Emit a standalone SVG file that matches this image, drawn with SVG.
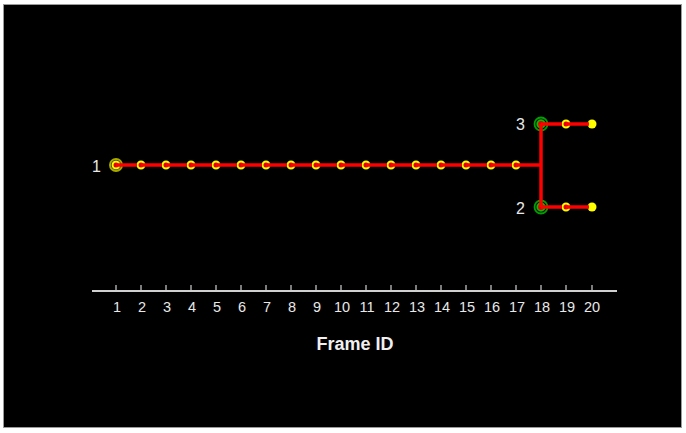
<svg xmlns="http://www.w3.org/2000/svg" width="686" height="433" viewBox="0 0 686 433">
<style>
.lbl{font-family:"Liberation Sans",Arial,sans-serif;font-size:16px;fill:#e8e8e8}
.tk{font-family:"Liberation Sans",Arial,sans-serif;font-size:14.5px;fill:#e8e8e8;text-anchor:middle}
.ttl{font-family:"Liberation Sans",Arial,sans-serif;font-size:18px;font-weight:bold;fill:#f0f0f0;text-anchor:middle}
.n{fill:#e00000;stroke:#ffff00;stroke-width:2}
.end{fill:#ffff00}
.e{stroke:#ff0000;stroke-width:3.5;fill:none}
.ax{stroke:#d0d0d0;stroke-width:2;fill:none}
.tick{stroke:#d0d0d0;stroke-width:1.2}
</style>
<rect x="0" y="0" width="686" height="433" fill="#ffffff"/>
<rect x="3.5" y="4.5" width="678" height="423" fill="#000000" stroke="#9a9a9a" stroke-width="1"/>
<g id="nodes">
<g id="n1"><circle cx="116" cy="165" r="6" fill="none" stroke="#a8a800" stroke-width="2"/><circle cx="116" cy="165" r="3.5" class="n"/></g>
<g id="n2"><circle cx="141" cy="165" r="3.5" class="n"/></g>
<g id="n3"><circle cx="166" cy="165" r="3.5" class="n"/></g>
<g id="n4"><circle cx="191" cy="165" r="3.5" class="n"/></g>
<g id="n5"><circle cx="216" cy="165" r="3.5" class="n"/></g>
<g id="n6"><circle cx="241" cy="165" r="3.5" class="n"/></g>
<g id="n7"><circle cx="266" cy="165" r="3.5" class="n"/></g>
<g id="n8"><circle cx="291" cy="165" r="3.5" class="n"/></g>
<g id="n9"><circle cx="316" cy="165" r="3.5" class="n"/></g>
<g id="n10"><circle cx="341" cy="165" r="3.5" class="n"/></g>
<g id="n11"><circle cx="366" cy="165" r="3.5" class="n"/></g>
<g id="n12"><circle cx="391" cy="165" r="3.5" class="n"/></g>
<g id="n13"><circle cx="416" cy="165" r="3.5" class="n"/></g>
<g id="n14"><circle cx="441" cy="165" r="3.5" class="n"/></g>
<g id="n15"><circle cx="466" cy="165" r="3.5" class="n"/></g>
<g id="n16"><circle cx="491" cy="165" r="3.5" class="n"/></g>
<g id="n17"><circle cx="516" cy="165" r="3.5" class="n"/></g>
<g id="b3-18"><circle cx="541" cy="124" r="6.5" fill="none" stroke="#00a000" stroke-width="1.8"/><circle cx="541" cy="124" r="3.8" fill="#e00000" stroke="#00c000" stroke-width="1.8"/></g>
<g id="b3-19"><circle cx="566" cy="124" r="3.5" class="n"/></g>
<g id="b3-20"><circle cx="592" cy="124" r="4.5" class="end"/></g>
<g id="b2-18"><circle cx="541" cy="207" r="6.5" fill="none" stroke="#00a000" stroke-width="1.8"/><circle cx="541" cy="207" r="3.8" fill="#e00000" stroke="#00c000" stroke-width="1.8"/></g>
<g id="b2-19"><circle cx="566" cy="207" r="3.5" class="n"/></g>
<g id="b2-20"><circle cx="592" cy="207" r="4.5" class="end"/></g>
</g>
<g id="connectors">
<line class="e" x1="116" y1="165" x2="137" y2="165"/>
<line class="e" x1="141" y1="165" x2="162" y2="165"/>
<line class="e" x1="166" y1="165" x2="187" y2="165"/>
<line class="e" x1="191" y1="165" x2="212" y2="165"/>
<line class="e" x1="216" y1="165" x2="237" y2="165"/>
<line class="e" x1="241" y1="165" x2="262" y2="165"/>
<line class="e" x1="266" y1="165" x2="287" y2="165"/>
<line class="e" x1="291" y1="165" x2="312" y2="165"/>
<line class="e" x1="316" y1="165" x2="337" y2="165"/>
<line class="e" x1="341" y1="165" x2="362" y2="165"/>
<line class="e" x1="366" y1="165" x2="387" y2="165"/>
<line class="e" x1="391" y1="165" x2="412" y2="165"/>
<line class="e" x1="416" y1="165" x2="437" y2="165"/>
<line class="e" x1="441" y1="165" x2="462" y2="165"/>
<line class="e" x1="466" y1="165" x2="487" y2="165"/>
<line class="e" x1="491" y1="165" x2="512" y2="165"/>
<line class="e" x1="516" y1="165" x2="541" y2="165"/>
<line class="e" x1="541" y1="124" x2="541" y2="207"/>
<line class="e" x1="541" y1="124" x2="562" y2="124"/>
<line class="e" x1="566" y1="124" x2="589" y2="124"/>
<line class="e" x1="541" y1="207" x2="562" y2="207"/>
<line class="e" x1="566" y1="207" x2="589" y2="207"/>
</g>
<text class="lbl" x="92" y="172">1</text>
<text class="lbl" x="516" y="130">3</text>
<text class="lbl" x="516" y="214">2</text>
<g id="axis">
<line class="ax" x1="92" y1="291" x2="617" y2="291"/>
<path class="tick" d="M116 285V291M141 285V291M166 285V291M191 285V291M216 285V291M241 285V291M266 285V291M291 285V291M316 285V291M341 285V291M366 285V291M391 285V291M416 285V291M441 285V291M466 285V291M491 285V291M516 285V291M541 285V291M566 285V291M592 285V291"/>
<text class="tk" x="117" y="312">1</text>
<text class="tk" x="142" y="312">2</text>
<text class="tk" x="167" y="312">3</text>
<text class="tk" x="192" y="312">4</text>
<text class="tk" x="217" y="312">5</text>
<text class="tk" x="242" y="312">6</text>
<text class="tk" x="267" y="312">7</text>
<text class="tk" x="292" y="312">8</text>
<text class="tk" x="317" y="312">9</text>
<text class="tk" x="342" y="312">10</text>
<text class="tk" x="367" y="312">11</text>
<text class="tk" x="392" y="312">12</text>
<text class="tk" x="417" y="312">13</text>
<text class="tk" x="442" y="312">14</text>
<text class="tk" x="467" y="312">15</text>
<text class="tk" x="492" y="312">16</text>
<text class="tk" x="517" y="312">17</text>
<text class="tk" x="542" y="312">18</text>
<text class="tk" x="567" y="312">19</text>
<text class="tk" x="592" y="312">20</text>
<text class="ttl" x="355" y="350">Frame ID</text>
</g>
</svg>
